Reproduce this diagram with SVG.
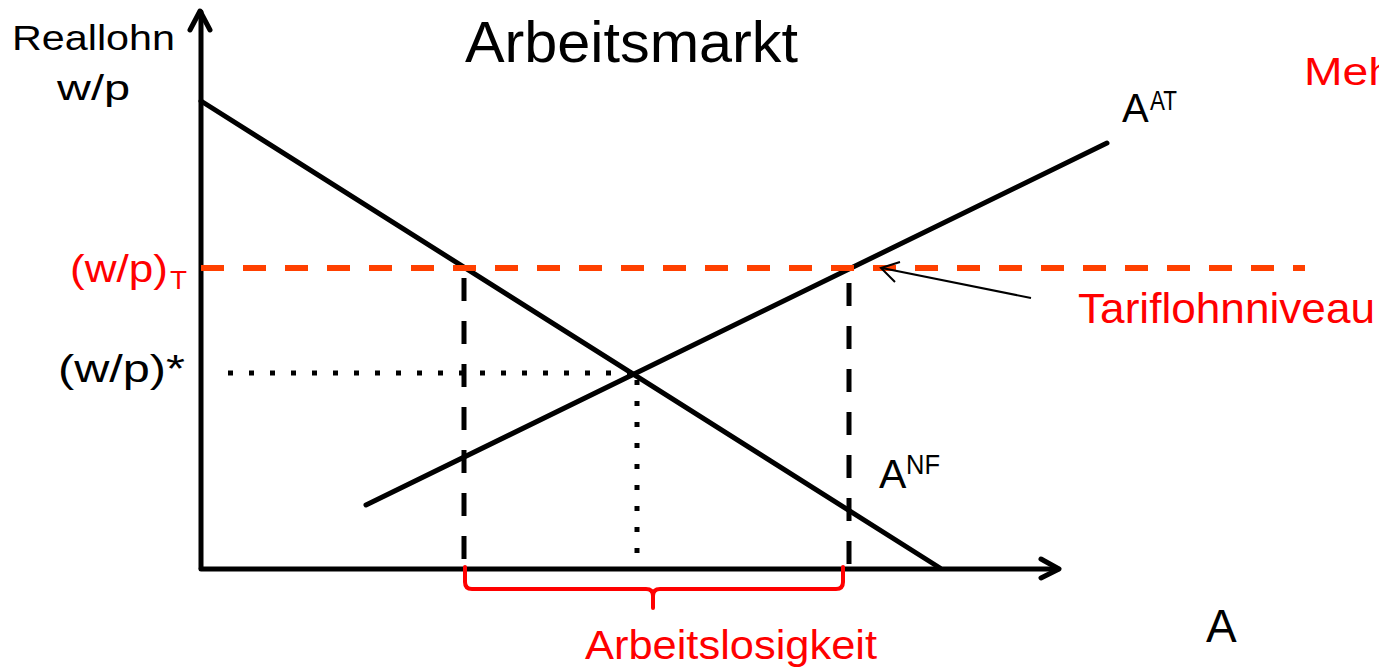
<svg xmlns="http://www.w3.org/2000/svg" width="1379" height="669" viewBox="0 0 1379 669">
<style>
text{font-family:"Liberation Sans",Arial,sans-serif;}
.k{fill:#000}
.r{fill:#ff0000}
.ln{stroke:#000;stroke-width:5;fill:none;stroke-linecap:round;stroke-linejoin:round}
.dash{stroke:#000;stroke-width:5;fill:none;stroke-dasharray:23 20}
.dot{stroke:#000;stroke-width:5;fill:none;stroke-dasharray:5 16}
.tarif{stroke:#ff4000;stroke-width:6;fill:none;stroke-dasharray:23 19}
</style>
<rect width="1379" height="669" fill="#fff"/>
<g id="connectors">
  <g id="axes">
    <path class="ln" d="M201,568 V12"/>
    <path class="ln" d="M190,30 L200,11 L210,30"/>
    <path class="ln" d="M201,569 H1058"/>
    <path class="ln" d="M1041,559 L1059,569 L1041,578"/>
  </g>
  <line id="nf-line" class="ln" x1="201" y1="101" x2="940" y2="568"/>
  <line id="at-line" class="ln" x1="366" y1="505" x2="1107" y2="143"/>
  <line id="tarif-line" class="tarif" x1="201" y1="268" x2="1305" y2="268"/>
  <line class="dash" x1="464" y1="278" x2="464" y2="566"/>
  <line class="dash" x1="849" y1="283" x2="849" y2="566"/>
  <line class="dot" x1="228" y1="373" x2="636" y2="373"/>
  <line class="dot" x1="637" y1="380" x2="637" y2="568"/>
  <g id="pointer">
    <line x1="1031" y1="298" x2="882" y2="268" stroke="#000" stroke-width="2"/>
    <path d="M900,262 L881,268 L895,282" stroke="#000" stroke-width="2" fill="none"/>
  </g>
  <path id="brace" d="M465,567 V582 Q465,589 472,589 H646 Q653,589 653,596 V608 M653,596 Q653,589 660,589 H836 Q843,589 843,582 V567" stroke="#ff0000" stroke-width="4" fill="none" stroke-linecap="round"/>
</g>
<g id="title"><text class="k" x="465" y="62" font-size="58" textLength="333" lengthAdjust="spacingAndGlyphs">Arbeitsmarkt</text></g>
<g id="y-label">
  <text class="k" x="12" y="50" font-size="35" textLength="163" lengthAdjust="spacingAndGlyphs">Reallohn</text>
  <text class="k" x="57" y="100" font-size="35" textLength="73" lengthAdjust="spacingAndGlyphs">w/p</text>
</g>
<g id="x-label"><text class="k" x="1206" y="642" font-size="46">A</text></g>
<g id="mehr"><text class="r" x="1304" y="85" font-size="39" textLength="90" lengthAdjust="spacingAndGlyphs">Meh</text></g>
<g id="aat">
  <text class="k" x="1122" y="122" font-size="40">A</text>
  <text class="k" x="1150" y="110" font-size="28" textLength="27" lengthAdjust="spacingAndGlyphs">AT</text>
</g>
<g id="anf">
  <text class="k" x="879" y="488" font-size="41">A</text>
  <text class="k" x="906" y="474" font-size="27" textLength="34" lengthAdjust="spacingAndGlyphs">NF</text>
</g>
<g id="wpT">
  <text class="r" x="70" y="282" font-size="38" textLength="98" lengthAdjust="spacingAndGlyphs">(w/p)</text>
  <text class="r" x="170" y="289" font-size="25" textLength="17" lengthAdjust="spacingAndGlyphs">T</text>
</g>
<g id="wpstar"><text class="k" x="58" y="382" font-size="38" textLength="127" lengthAdjust="spacingAndGlyphs">(w/p)*</text></g>
<g id="tarif-label"><text class="r" x="1078" y="323" font-size="42" textLength="297" lengthAdjust="spacingAndGlyphs">Tariflohnniveau</text></g>
<g id="unemployment"><text class="r" x="585" y="659" font-size="41" textLength="292" lengthAdjust="spacingAndGlyphs">Arbeitslosigkeit</text></g>
</svg>
